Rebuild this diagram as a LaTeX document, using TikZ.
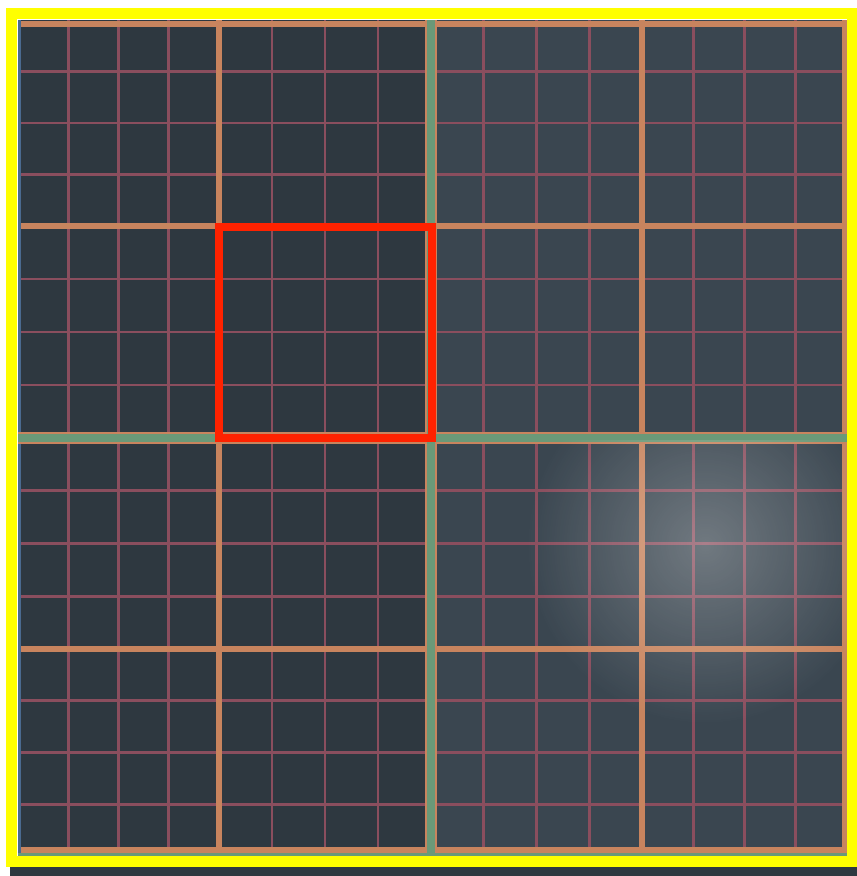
\documentclass[tikz,border=0pt]{standalone}
\usetikzlibrary{fadings}
\definecolor{slate}{HTML}{2E3840}
\definecolor{slatelight}{HTML}{3A4650}
\definecolor{cellline}{HTML}{8A4E5E}
\definecolor{blockline}{HTML}{C8845E}
\definecolor{quadline}{HTML}{6A9978}
\definecolor{edgeblue}{HTML}{4A6A90}
\definecolor{pickred}{HTML}{FF2200}
\definecolor{frameyellow}{HTML}{FFFF00}
\tikzfading[name=softglow, inner color=transparent!0, outer color=transparent!100]
\tikzset{
  cell/.style={draw=cellline, line width=0.8mm},
  block/.style={draw=blockline, line width=2mm},
  quad/.style={draw=quadline, line width=2.6mm},
}
\begin{document}
\begin{tikzpicture}[x=0.3mm, y=-0.3mm]
  \useasboundingbox (0,0) rectangle (857,876);
  \fill[white] (0,0) rectangle (857,876);

  \fill[slate] (10,862) rectangle (857,876);
  \fill[slate] (18,20) rectangle (847,856);
  \fill[slatelight] (431,20) rectangle (847,856);

  \foreach \xa/\xb in {18/219,219/431,431/642,642/847}
    \foreach \k in {1,2,3}
      \draw[cell] ({\xa+\k*(\xb-\xa)/4},20) -- ({\xa+\k*(\xb-\xa)/4},856);
  \foreach \ya/\yb in {20/226,226/438,438/649,649/856}
    \foreach \k in {1,2,3}
      \draw[cell] (18,{\ya+\k*(\yb-\ya)/4}) -- (847,{\ya+\k*(\yb-\ya)/4});

  \foreach \x in {219,431,642,845}
    \draw[block] (\x,20) -- (\x,856);
  \foreach \y in {24,226,438,649,850}
    \draw[block] (18,\y) -- (847,\y);
  \draw[draw=edgeblue, line width=0.9mm] (19,20) -- (19,856);

  \draw[quad, line width=3.8mm, draw=blockline] (431,20) -- (431,856);
  \draw[quad, line width=3.8mm, draw=blockline] (18,438) -- (847,438);
  \draw[quad] (431,20) -- (431,856);
  \draw[quad] (18,438) -- (847,438);
  \draw[draw=quadline, line width=1.2mm] (18,855) -- (847,855);

  \begin{scope}
    \clip (431,440) rectangle (847,856);
    \fill[white, opacity=0.28, path fading=softglow]
      (705,545) circle (180);
  \end{scope}

  \draw[draw=pickred, line width=2.4mm] (219,227) rectangle (432,438);
  \draw[draw=frameyellow, line width=3.3mm] (11,13) rectangle (852.5,861);
\end{tikzpicture}
\end{document}
